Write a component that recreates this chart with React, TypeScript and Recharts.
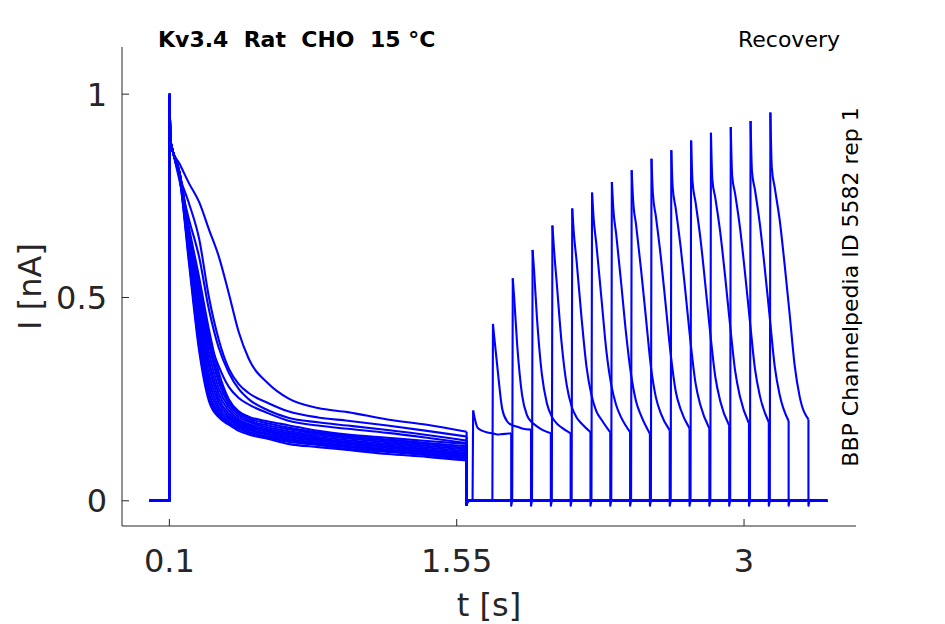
import React from 'react';
import { LineChart, Line, XAxis, YAxis } from 'recharts';

// ---- axes ----
const X_DOMAIN = [-0.139, 3.565];
const Y_DOMAIN = [-0.062, 1.116];
const X_TICKS = [0.1, 1.55, 3];
const X_TICK_LABELS = ['0.1', '1.55', '3'];
const Y_TICKS = [0, 0.5, 1];
const Y_TICK_LABELS = ['0', '0.5', '1'];

// ---- prepulse (sweep start at 0 s, step at 0.1 s, end at 1.6 s) ----
// columns: 0, 0.1 (step), 0.101 (peak), 0.105, then decay samples
const PRE_T = [0, 0.1, 0.101, 0.105, 0.117, 0.15, 0.2, 0.25, 0.3, 0.35, 0.4, 0.45, 0.5, 0.6, 0.7, 0.85, 1.0, 1.2, 1.4, 1.6];
const PRE_0 = [0, 0, 1.0, 0.885, 0.86, 0.83, 0.78, 0.735, 0.667, 0.6, 0.51, 0.415, 0.35, 0.288, 0.252, 0.228, 0.218, 0.2, 0.187, 0.17];
const PRE_1 = [0, 0, 0.995, 0.885, 0.86, 0.8, 0.73, 0.645, 0.5, 0.395, 0.325, 0.287, 0.265, 0.24, 0.22, 0.205, 0.197, 0.185, 0.172, 0.158];
const PRE_2 = [0, 0, 0.99, 0.885, 0.86, 0.79, 0.69, 0.6, 0.47, 0.375, 0.315, 0.275, 0.25, 0.222, 0.204, 0.193, 0.185, 0.174, 0.162, 0.148];
const PRE_3 = [0, 0, 0.995, 0.885, 0.86, 0.8, 0.66, 0.53, 0.4, 0.33, 0.28, 0.253, 0.237, 0.215, 0.197, 0.185, 0.177, 0.167, 0.155, 0.142];
const PRE_4 = [0, 0, 1.0, 0.885, 0.86, 0.8, 0.58, 0.37, 0.245, 0.205, 0.187, 0.172, 0.163, 0.152, 0.14, 0.132, 0.125, 0.115, 0.108, 0.099];
const PRE_5 = [0, 0, 0.99, 0.885, 0.86, 0.8, 0.59, 0.38, 0.255, 0.21, 0.19, 0.177, 0.167, 0.155, 0.145, 0.137, 0.128, 0.12, 0.112, 0.103];
const PRE_6 = [0, 0, 0.995, 0.885, 0.86, 0.805, 0.6, 0.4, 0.265, 0.215, 0.193, 0.18, 0.17, 0.158, 0.149, 0.14, 0.132, 0.123, 0.115, 0.106];
const PRE_7 = [0, 0, 0.99, 0.885, 0.86, 0.805, 0.61, 0.42, 0.28, 0.222, 0.198, 0.184, 0.174, 0.162, 0.152, 0.143, 0.135, 0.126, 0.118, 0.109];
const PRE_8 = [0, 0, 1.0, 0.885, 0.86, 0.805, 0.615, 0.44, 0.295, 0.23, 0.203, 0.188, 0.177, 0.165, 0.156, 0.147, 0.139, 0.13, 0.121, 0.112];
const PRE_9 = [0, 0, 0.99, 0.885, 0.86, 0.805, 0.625, 0.455, 0.31, 0.24, 0.208, 0.192, 0.181, 0.169, 0.159, 0.15, 0.142, 0.133, 0.124, 0.115];
const PRE_10 = [0, 0, 0.995, 0.885, 0.86, 0.81, 0.635, 0.47, 0.33, 0.25, 0.214, 0.196, 0.185, 0.172, 0.163, 0.153, 0.145, 0.136, 0.127, 0.118];
const PRE_11 = [0, 0, 0.99, 0.885, 0.86, 0.81, 0.64, 0.49, 0.345, 0.262, 0.222, 0.2, 0.189, 0.176, 0.167, 0.157, 0.149, 0.14, 0.131, 0.122];
const PRE_12 = [0, 0, 1.0, 0.885, 0.86, 0.81, 0.65, 0.505, 0.365, 0.275, 0.23, 0.206, 0.194, 0.18, 0.171, 0.161, 0.153, 0.144, 0.135, 0.126];
const PRE_13 = [0, 0, 0.995, 0.885, 0.86, 0.81, 0.655, 0.52, 0.385, 0.29, 0.238, 0.212, 0.198, 0.185, 0.176, 0.165, 0.157, 0.148, 0.139, 0.13];
const PRE_14 = [0, 0, 0.99, 0.885, 0.86, 0.81, 0.66, 0.535, 0.4, 0.3, 0.245, 0.217, 0.203, 0.19, 0.18, 0.168, 0.16, 0.151, 0.142, 0.134];
const PRE_15 = [0, 0, 0.995, 0.885, 0.86, 0.81, 0.67, 0.55, 0.42, 0.315, 0.25, 0.22, 0.207, 0.195, 0.186, 0.172, 0.163, 0.155, 0.147, 0.14];
const PRE = [PRE_0, PRE_1, PRE_2, PRE_3, PRE_4, PRE_5, PRE_6, PRE_7, PRE_8, PRE_9, PRE_10, PRE_11, PRE_12, PRE_13, PRE_14, PRE_15];
const PRE_SMOOTH_FROM = 3; // index where the smooth decay starts
const PRE_END = 1.6;
const PRE_END_DIP = -0.01;

// ---- test pulses (recovery) ----
const TEST_START = [1.63, 1.73, 1.83, 1.93, 2.03, 2.13, 2.23, 2.33, 2.43, 2.53, 2.63, 2.73, 2.83, 2.93, 3.03, 3.13];
const TEST_DT = [0, 0.003, 0.01, 0.025, 0.05, 0.075, 0.1, 0.125, 0.15, 0.195];
const TEST_0 = [0, 0.222, 0.205, 0.18, 0.172, 0.168, 0.166, 0.163, 0.164, 0.166];
const TEST_1 = [0, 0.435, 0.4, 0.33, 0.225, 0.195, 0.186, 0.182, 0.178, 0.175];
const TEST_2 = [0, 0.547, 0.5, 0.385, 0.26, 0.21, 0.193, 0.183, 0.175, 0.166];
const TEST_3 = [0, 0.617, 0.57, 0.45, 0.31, 0.24, 0.207, 0.19, 0.18, 0.166];
const TEST_4 = [0, 0.677, 0.625, 0.535, 0.385, 0.285, 0.232, 0.205, 0.19, 0.169];
const TEST_5 = [0, 0.719, 0.665, 0.59, 0.45, 0.33, 0.26, 0.22, 0.2, 0.168];
const TEST_6 = [0, 0.758, 0.7, 0.63, 0.5, 0.37, 0.285, 0.235, 0.205, 0.169];
const TEST_7 = [0, 0.784, 0.72, 0.655, 0.535, 0.41, 0.31, 0.245, 0.21, 0.165];
const TEST_8 = [0, 0.813, 0.74, 0.68, 0.57, 0.45, 0.33, 0.255, 0.215, 0.173];
const TEST_9 = [0, 0.841, 0.755, 0.7, 0.6, 0.48, 0.36, 0.27, 0.225, 0.178];
const TEST_10 = [0, 0.862, 0.77, 0.72, 0.625, 0.51, 0.39, 0.29, 0.235, 0.178];
const TEST_11 = [0, 0.886, 0.785, 0.735, 0.645, 0.53, 0.41, 0.305, 0.245, 0.185];
const TEST_12 = [0, 0.905, 0.79, 0.745, 0.66, 0.55, 0.43, 0.32, 0.255, 0.19];
const TEST_13 = [0, 0.919, 0.8, 0.755, 0.67, 0.56, 0.44, 0.325, 0.258, 0.193];
const TEST_14 = [0, 0.934, 0.81, 0.765, 0.68, 0.57, 0.45, 0.33, 0.26, 0.196];
const TEST_15 = [0, 0.955, 0.82, 0.77, 0.69, 0.58, 0.46, 0.335, 0.258, 0.2];
const TEST = [TEST_0, TEST_1, TEST_2, TEST_3, TEST_4, TEST_5, TEST_6, TEST_7, TEST_8, TEST_9, TEST_10, TEST_11, TEST_12, TEST_13, TEST_14, TEST_15];
const TEST_SMOOTH_FROM = 1; // from the peak on
const TAIL_DIP = -0.012;
const TAIL_DT = 0.2;
const SWEEP_END = 3.42;

const BLUE = '#0000ff';
const AXIS = '#262626';
const FONT = '"DejaVu Sans", sans-serif';

type Pt = { t: number; i: number };
type Seg = { pts: Pt[]; smooth: boolean };

const segments: Seg[] = [];
PRE.forEach((pre, k) => {
  const prePts: Pt[] = PRE_T.map((t, j) => ({ t, i: pre[j] }));
  // step + peak (straight)
  segments.push({ pts: prePts.slice(0, PRE_SMOOTH_FROM + 1), smooth: false });
  // inactivating decay (smooth)
  segments.push({ pts: prePts.slice(PRE_SMOOTH_FROM), smooth: true });
  const s = TEST_START[k];
  const testPts: Pt[] = TEST_DT.map((dt, j) => ({ t: s + dt, i: TEST[k][j] }));
  const preLast = prePts[prePts.length - 1];
  // end of prepulse, gap at 0, rise of test pulse (straight)
  segments.push({
    pts: [preLast, { t: PRE_END, i: PRE_END_DIP }, { t: PRE_END + 0.005, i: 0 }, ...testPts.slice(0, TEST_SMOOTH_FROM + 1)],
    smooth: false,
  });
  // test pulse decay (smooth)
  segments.push({ pts: testPts.slice(TEST_SMOOTH_FROM), smooth: true });
  const testLast = testPts[testPts.length - 1];
  // tail and rest of sweep (straight)
  segments.push({
    pts: [testLast, { t: testLast.t, i: TAIL_DIP }, { t: s + TAIL_DT, i: 0 }, { t: SWEEP_END, i: 0 }],
    smooth: false,
  });
});

const XTick = (props: any) => {
  const { x, y, payload } = props;
  const idx = X_TICKS.indexOf(payload.value);
  return (
    <g>
      <line x1={x} x2={x} y1={y - 8} y2={y - 15} stroke={AXIS} strokeWidth={1} />
      <text x={x} y={y + 38} textAnchor="middle" fontSize={32} fontFamily={FONT} fill={AXIS}>
        {idx >= 0 ? X_TICK_LABELS[idx] : String(payload.value)}
      </text>
    </g>
  );
};

const YTick = (props: any) => {
  const { x, y, payload } = props;
  const idx = Y_TICKS.indexOf(payload.value);
  return (
    <g>
      <line x1={x + 8} x2={x + 15} y1={y} y2={y} stroke={AXIS} strokeWidth={1} />
      <text x={x - 7} y={y + 11.5} textAnchor="end" fontSize={32} fontFamily={FONT} fill={AXIS}>
        {idx >= 0 ? Y_TICK_LABELS[idx] : String(payload.value)}
      </text>
    </g>
  );
};

const XLabel = (props: any) => {
  const vb = props.viewBox || {};
  return (
    <text x={vb.x + vb.width / 2} y={vb.y + 90} textAnchor="middle" fontSize={32} fontFamily={FONT} fill={AXIS}>
      t [s]
    </text>
  );
};

const YLabel = (props: any) => {
  const vb = props.viewBox || {};
  const cx = vb.x + vb.width - 81;
  const cy = vb.y + vb.height / 2;
  return (
    <text x={cx} y={cy} transform={`rotate(-90 ${cx} ${cy})`} textAnchor="middle" fontSize={32} fontFamily={FONT} fill={AXIS}>
      I [nA]
    </text>
  );
};

export default function App() {
  return (
    <div style={{ position: 'absolute', left: 0, top: 0, width: 945, height: 624, background: '#fff' }}>
      <LineChart width={945} height={624} margin={{ top: 47, right: 89, bottom: 58, left: 62 }}>
        <XAxis
          dataKey="t"
          type="number"
          domain={X_DOMAIN}
          ticks={X_TICKS}
          allowDataOverflow
          height={40}
          tickSize={6}
          tickMargin={2}
          tickLine={false}
          axisLine={{ stroke: AXIS, strokeWidth: 1 }}
          tick={<XTick />}
          interval={0}
          label={<XLabel />}
        />
        <YAxis
          dataKey="i"
          type="number"
          domain={Y_DOMAIN}
          ticks={Y_TICKS}
          allowDataOverflow
          width={60}
          tickSize={6}
          tickMargin={2}
          tickLine={false}
          axisLine={{ stroke: AXIS, strokeWidth: 1 }}
          tick={<YTick />}
          interval={0}
          label={<YLabel />}
        />
        {segments.map((seg, k) => (
          <Line
            key={k}
            data={seg.pts}
            dataKey="i"
            type={seg.smooth ? 'monotone' : 'linear'}
            stroke={BLUE}
            strokeWidth={2.1}
            strokeLinejoin="round"
            dot={false}
            activeDot={false}
            isAnimationActive={false}
          />
        ))}
      </LineChart>
      <svg width={945} height={624} style={{ position: 'absolute', left: 0, top: 0, pointerEvents: 'none' }}>
        <text x={158} y={47} fontSize={22} fontWeight="bold" fontFamily={FONT} fill="#000" style={{ whiteSpace: 'pre' }}>
          {'Kv3.4  Rat  CHO  15 °C'}
        </text>
        <text x={840} y={47} textAnchor="end" fontSize={22} fontFamily={FONT} fill="#000">
          Recovery
        </text>
        <text x={858} y={287} transform="rotate(-90 858 287)" textAnchor="middle" fontSize={22} fontFamily={FONT} fill="#000">
          BBP Channelpedia ID 5582 rep 1
        </text>
      </svg>
    </div>
  );
}
